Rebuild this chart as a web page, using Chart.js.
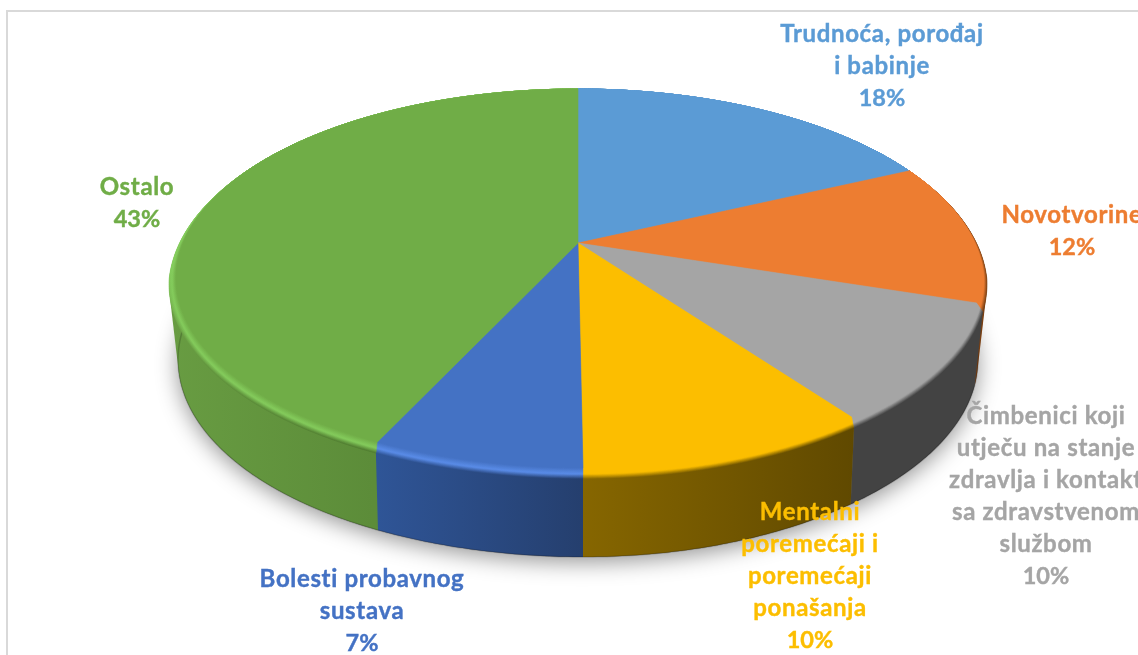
<!DOCTYPE html>
<html lang="hr">
<head>
    <meta charset="UTF-8">
    <title>Pie 3D</title>
    <script src="https://cdn.jsdelivr.net/npm/chart.js"></script>
    <style>
        html, body { margin: 0; padding: 0; background: #fff; overflow: hidden; }
        canvas { display: block; }
    </style>
</head>
<body>
    <canvas id="plot" width="1138" height="655"></canvas>

    <script>
        // slices clockwise from 12 o'clock
        const categories = [
            ['Trudnoća, porođaj', 'i babinje'],
            ['Novotvorine'],
            ['Čimbenici koji', 'utječu na stanje', 'zdravlja i kontakt', 'sa zdravstvenom', 'službom'],
            ['Mentalni', 'poremećaji i', 'poremećaji', 'ponašanja'],
            ['Bolesti probavnog', 'sustava'],
            ['Ostalo']
        ];
        const values = [18, 12, 10, 10, 7, 43];

        const faceColors = ['#5B9BD5', '#ED7D31', '#A5A5A5', '#FCBE00', '#4472C4', '#70AD47'];
        const bevelColors = ['#5B9BD5', '#ED7D31', '#A5A5A5', '#FCBE00', '#5A8CE8', '#84CC5C'];
        const wallLeft = ['#2f5d85', '#7a3f12', '#434343', '#866600', '#2F5597', '#689C42'];
        const wallRight = ['#2f5d85', '#7a3f12', '#434343', '#604900', '#253F6E', '#507C30'];

        // label centre x and first baseline
        const labelPos = [[882, 42], [1072, 223], [1046, 424], [810, 520], [362, 587], [137, 195]];
        const lineHeight = 32;

        // the three rings of the tilted disc, in perspective
        const faceRing = { cx: 578, rx: 402, top: 89, bottom: 468, vertex: 243 };
        const rimRing = { cx: 578, rx: 409, top: 89, bottom: 479, vertex: 250 };
        const floorRing = { cx: 578, rx: 400, top: 163, bottom: 557, vertex: 323 };

        const GREEN = 5;
        // green goes first: its hull runs under the blue wall
        const wallOrder = [GREEN, 0, 1, 2, 3, 4];

        function project(ring, angle) {
            const x = Math.cos(angle), y = Math.sin(angle);
            const k = (2 * ring.vertex - ring.bottom - ring.top) / (ring.bottom - ring.top);
            const a = ring.bottom * (1 + k) - ring.vertex;
            const w = ring.rx * Math.sqrt(1 - k * k);
            const d = 1 + k * y;
            return {
                x: ring.cx + w * x / d + 5 * Math.pow(Math.max(0, y), 12),
                y: (a * y + ring.vertex) / d
            };
        }

        // s = 0 face edge, s = 1 outside of the bevel; bevel fades out towards the back
        function bevelPoint(angle, s) {
            const f = project(faceRing, angle);
            const r = project(rimRing, angle);
            const w = Math.min(1, Math.max(0, (Math.sin(angle) + 0.45) / 0.6));
            return { x: f.x + (r.x - f.x) * s * w, y: f.y + (r.y - f.y) * s * w };
        }

        function arcPoints(fn, a0, a1) {
            const n = Math.max(2, Math.ceil((a1 - a0) / 0.01));
            const pts = [];
            for (let i = 0; i <= n; i++) pts.push(fn(a0 + (a1 - a0) * i / n));
            return pts;
        }

        // walls need the tangent from rim to floor, so fill the hull of both arcs
        function hull(points) {
            const pts = points.slice().sort((p, q) => p.x - q.x || p.y - q.y);
            const cross = (o, a, b) => (a.x - o.x) * (b.y - o.y) - (a.y - o.y) * (b.x - o.x);
            const half = list => {
                const out = [];
                list.forEach(p => {
                    while (out.length > 1 && cross(out[out.length - 2], out[out.length - 1], p) <= 0) out.pop();
                    out.push(p);
                });
                out.pop();
                return out;
            };
            return half(pts).concat(half(pts.slice().reverse()));
        }

        function tracePath(ctx, pts) {
            ctx.beginPath();
            pts.forEach((p, i) => i ? ctx.lineTo(p.x, p.y) : ctx.moveTo(p.x, p.y));
            ctx.closePath();
        }

        function rgb(hex) {
            return [1, 3, 5].map(i => parseInt(hex.substr(i, 2), 16));
        }

        function mix(c1, c2, t) {
            const a = rgb(c1), b = rgb(c2);
            const m = a.map((v, i) => Math.round(v + (b[i] - v) * t));
            return '#' + m.map(v => v.toString(16).padStart(2, '0')).join('');
        }

        function bevelColor(i, s, end) {
            const p = 0.55;
            if (s < p) return mix(faceColors[i], bevelColors[i], s / p);
            return mix(bevelColors[i], end, (s - p) / (1 - p));
        }

        const pie3d = {
            id: 'pie3d',
            beforeDraw(chart) {
                const ctx = chart.ctx;
                ctx.save();
                ctx.strokeStyle = '#D9D9D9';
                ctx.lineWidth = 2;
                ctx.strokeRect(7, 11, 1200, 700);
                ctx.restore();
            },
            beforeDatasetsDraw(chart) {
                const ctx = chart.ctx;
                const arcs = chart.getDatasetMeta(0).data;
                ctx.save();

                // soft shadow below the disc
                ctx.save();
                ctx.shadowColor = 'rgba(0,0,0,0.42)';
                ctx.shadowBlur = 22;
                ctx.shadowOffsetY = 5;
                ctx.fillStyle = '#666';
                tracePath(ctx, arcPoints(a => project(floorRing, a), 0, Math.PI * 2));
                ctx.fill();
                ctx.restore();

                // side walls
                const ranges = [];
                wallOrder.forEach(i => {
                    const arc = arcs[i];
                    const top = arcPoints(a => bevelPoint(a, 1), arc.startAngle, arc.endAngle);
                    const low = arcPoints(a => project(floorRing, a), arc.startAngle, arc.endAngle);
                    const xs = top.concat(low).map(p => p.x);
                    const x0 = Math.min(...xs), x1 = Math.max(...xs);
                    ranges[i] = [x0, x1];
                    const g = ctx.createLinearGradient(x0, 0, x1, 0);
                    g.addColorStop(0, wallLeft[i]);
                    g.addColorStop(1, wallRight[i]);
                    ctx.fillStyle = g;
                    tracePath(ctx, hull(top.concat(low)));
                    ctx.fill();
                    ctx.strokeStyle = 'rgba(0,0,0,0.18)';
                    ctx.lineWidth = 1.5;
                    ctx.beginPath();
                    low.forEach((p, j) => j ? ctx.lineTo(p.x, p.y) : ctx.moveTo(p.x, p.y));
                    ctx.stroke();
                });

                // top face with its bevel, painted from the outside in
                const steps = 14;
                const vertex = { x: 578, y: faceRing.vertex };
                for (let k = steps; k >= 0; k--) {
                    const s = k / steps;
                    arcs.forEach((arc, i) => {
                        let g;
                        if (i === GREEN) {
                            // upper left has no wall under the rim, so it stays light there
                            g = ctx.createLinearGradient(0, 270, 0, 450);
                            g.addColorStop(0, bevelColor(i, s, bevelColors[i]));
                            g.addColorStop(0.4, bevelColor(i, s, wallLeft[i]));
                            g.addColorStop(1, bevelColor(i, s, wallRight[i]));
                        } else {
                            g = ctx.createLinearGradient(ranges[i][0], 0, ranges[i][1], 0);
                            g.addColorStop(0, bevelColor(i, s, wallLeft[i]));
                            g.addColorStop(1, bevelColor(i, s, wallRight[i]));
                        }
                        ctx.fillStyle = g;
                        ctx.strokeStyle = g;
                        ctx.lineWidth = 0.6;
                        const pts = arcPoints(a => bevelPoint(a, s), arc.startAngle, arc.endAngle);
                        tracePath(ctx, [vertex].concat(pts));
                        ctx.fill();
                        ctx.stroke();
                    });
                }
                ctx.restore();
                return false; // the arcs are painted above
            },
            afterDraw(chart) {
                const ctx = chart.ctx;
                ctx.save();
                ctx.textAlign = 'center';
                ctx.textBaseline = 'alphabetic';
                ctx.lineWidth = 0.4;
                categories.forEach((lines, i) => {
                    ctx.fillStyle = faceColors[i];
                    ctx.strokeStyle = faceColors[i];
                    const [x, y] = labelPos[i];
                    lines.concat(values[i] + '%').forEach((line, j) => {
                        const isPct = j === lines.length;
                        ctx.font = isPct ? 'bold 23.5px Lato' : 'bold 24px Lato';
                        ctx.letterSpacing = isPct ? '0px' : '0.65px';
                        ctx.fillText(line, x, y + j * lineHeight);
                        ctx.strokeText(line, x, y + j * lineHeight);
                    });
                });
                ctx.restore();
            }
        };

        new Chart(document.getElementById('plot'), {
            type: 'pie',
            data: {
                labels: categories.map(c => c.join(' ')),
                datasets: [{ data: values, backgroundColor: faceColors, borderWidth: 0 }]
            },
            options: {
                responsive: false,
                animation: false,
                events: [],
                rotation: 0,
                plugins: { legend: { display: false }, tooltip: { enabled: false } }
            },
            plugins: [pie3d]
        });
    </script>
</body>
</html>
